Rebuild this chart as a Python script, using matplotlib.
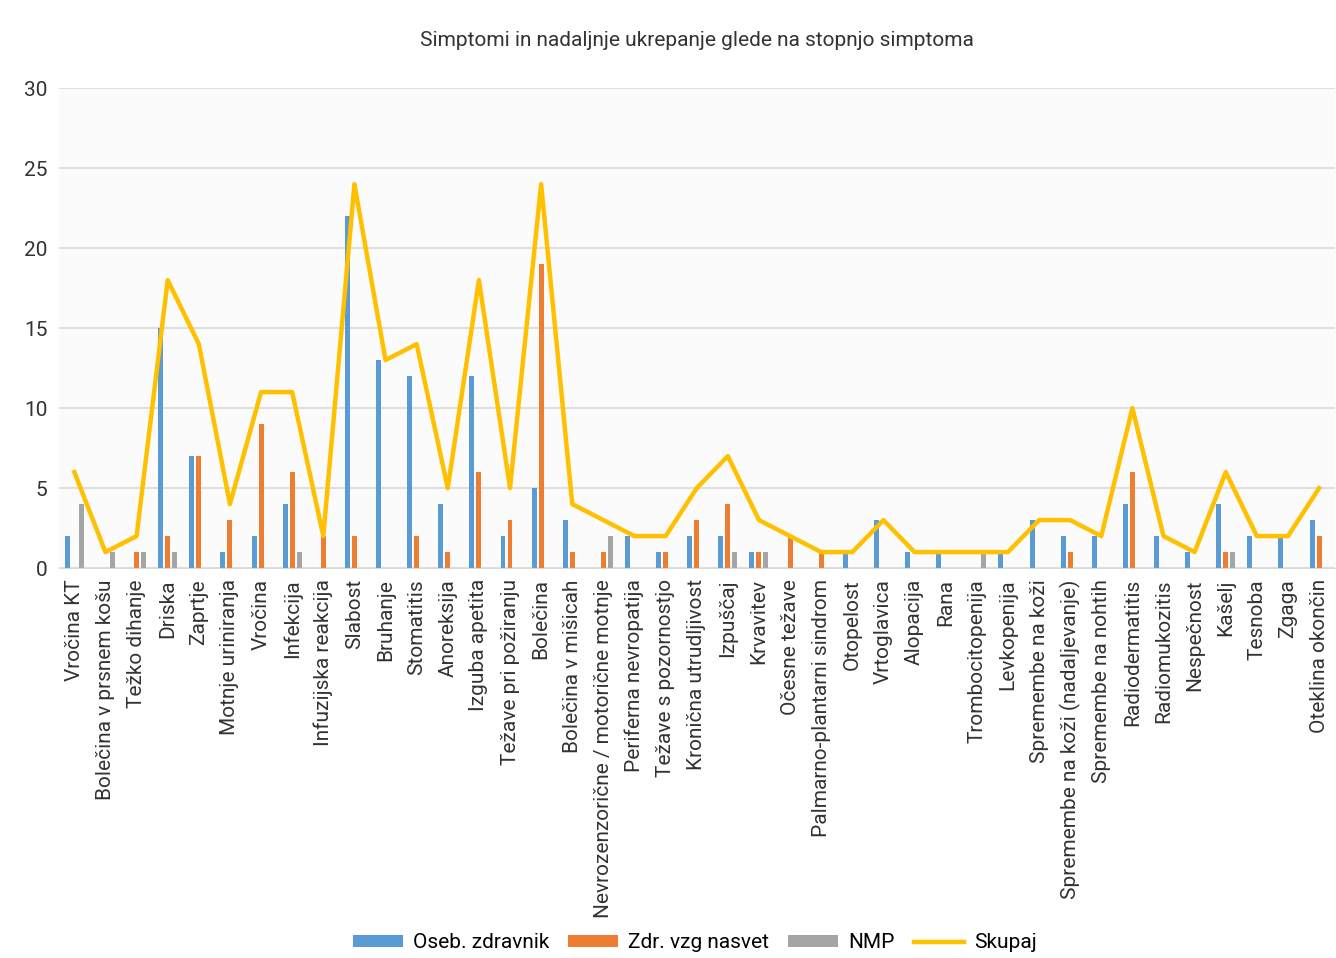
import numpy as np
import matplotlib.pyplot as plt

plt.rcParams['font.family'] = ['Roboto', 'DejaVu Sans']

kategorije = [
    'Vročina KT', 'Bolečina v prsnem košu', 'Težko dihanje', 'Driska', 'Zaprtje',
    'Motnje uriniranja', 'Vročina', 'Infekcija', 'Infuzijska reakcija', 'Slabost',
    'Bruhanje', 'Stomatitis', 'Anoreksija', 'Izguba apetita', 'Težave pri požiranju',
    'Bolečina', 'Bolečina v mišicah', 'Nevrozenzorične / motorične motnje',
    'Periferna nevropatija', 'Težave s pozornostjo', 'Kronična utrudljivost',
    'Izpuščaj', 'Krvavitev', 'Očesne težave', 'Palmarno-plantarni sindrom',
    'Otopelost', 'Vrtoglavica', 'Alopacija', 'Rana', 'Trombocitopenija',
    'Levkopenija', 'Spremembe na koži', 'Spremembe na koži (nadaljevanje)',
    'Spremembe na nohtih', 'Radiodermatitis', 'Radiomukozitis', 'Nespečnost',
    'Kašelj', 'Tesnoba', 'Zgaga', 'Oteklina okončin',
]

# vrednosti po serijah
oseb_zdravnik = [2, 0, 0, 15, 7, 1, 2, 4, 0, 22, 13, 12, 4, 12, 2, 5, 3, 0, 2, 1, 2,
                 2, 1, 0, 0, 1, 3, 1, 1, 0, 1, 3, 2, 2, 4, 2, 1, 4, 2, 2, 3]
zdr_nasvet = [0, 0, 1, 2, 7, 3, 9, 6, 2, 2, 0, 2, 1, 6, 3, 19, 1, 1, 0, 1, 3,
              4, 1, 2, 1, 0, 0, 0, 0, 0, 0, 0, 1, 0, 6, 0, 0, 1, 0, 0, 2]
nmp = [4, 1, 1, 1, 0, 0, 0, 1, 0, 0, 0, 0, 0, 0, 0, 0, 0, 2, 0, 0, 0,
       1, 1, 0, 0, 0, 0, 0, 0, 1, 0, 0, 0, 0, 0, 0, 0, 1, 0, 0, 0]
skupaj = [6, 1, 2, 18, 14, 4, 11, 11, 2, 24, 13, 14, 5, 18, 5, 24, 4, 3, 2, 2, 5,
          7, 3, 2, 1, 1, 3, 1, 1, 1, 1, 3, 3, 2, 10, 2, 1, 6, 2, 2, 5]

x = np.arange(len(kategorije))
w = 0.16

fig = plt.figure(figsize=(13.36, 9.58), dpi=100)
ax = fig.add_axes([0.044, 0.407, 0.955, 0.501])
ax.set_facecolor('#fbfbfb')

ax.bar(x - 0.225, oseb_zdravnik, w, color='#5B9BD5', label='Oseb. zdravnik', zorder=2)
ax.bar(x, zdr_nasvet, w, color='#ED7D31', label='Zdr. vzg nasvet', zorder=2)
ax.bar(x + 0.225, nmp, w, color='#A5A5A5', label='NMP', zorder=2)
ax.plot(x, skupaj, color='#FFC000', lw=3.2, label='Skupaj', zorder=3)

ax.set_xlim(-0.5, len(kategorije) - 0.5)
ax.set_ylim(0, 30)
ax.set_yticks(range(0, 31, 5))
ax.set_xticks(x)
ax.set_xticklabels(kategorije, rotation=90, fontsize=15, color='#333333')
ax.tick_params(axis='y', labelsize=15, colors='#333333', length=0, pad=8)
ax.tick_params(axis='x', length=0, pad=8)
ax.grid(axis='y', color='#d9d9d9', lw=1.2, zorder=0)
for s in ['top', 'right', 'left']:
    ax.spines[s].set_visible(False)
ax.spines['bottom'].set_color('#d9d9d9')

ax.set_title('Simptomi in nadaljnje ukrepanje glede na stopnjo simptoma',
             fontsize=15, color='#333333', pad=30)

handles, labels = ax.get_legend_handles_labels()
order = [1, 2, 3, 0]
fig.legend([handles[i] for i in order], [labels[i] for i in order],
           loc='center', bbox_to_anchor=(0.52, 0.016), ncol=4, frameon=False,
           fontsize=15, handlelength=2.4, handleheight=0.5,
           columnspacing=0.9, handletextpad=0.5)

fig.savefig('out.png', dpi=100, facecolor='white')
